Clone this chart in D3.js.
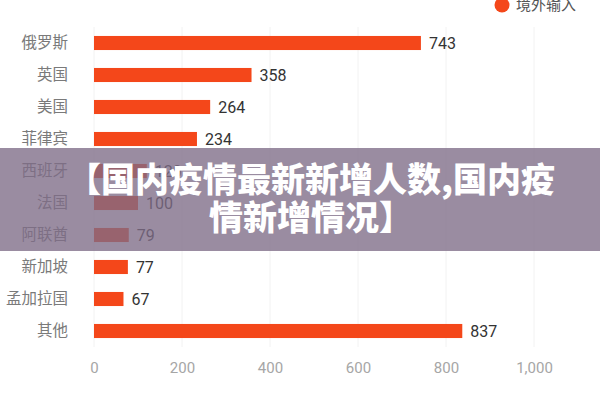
<!DOCTYPE html>
<html>
<head>
<meta charset="utf-8">
<script src="https://cdn.jsdelivr.net/npm/d3@7"></script>
<style>
  body { margin: 0; background: #fff; }
  svg { display: block; font-family: "Noto Sans CJK SC", "Noto Sans", sans-serif; }
</style>
</head>
<body>
<div id="chart-area"></div>
<script>
// data
var countries = ["俄罗斯", "英国", "美国", "菲律宾", "西班牙", "法国", "阿联酋", "新加坡", "孟加拉国", "其他"];
var cases = [743, 358, 264, 234, 120, 100, 79, 77, 67, 837];
var xTicks = [0, 200, 400, 600, 800, 1000];
var legendLabel = "境外输入";
var titleLines = ["【国内疫情最新新增人数,国内疫", "情新增情况】"];

var width = 600, height = 400;
var margin = {left: 94, right: 66, top: 27, bottom: 53};

var svg = d3.select("#chart-area")
    .append("svg")
        .attr("width", width)
        .attr("height", height);

var x = d3.scaleLinear()
    .domain([0, 1000])
    .range([margin.left, width - margin.right]);

var y = d3.scaleBand()
    .domain(countries)
    .range([margin.top, height - margin.bottom])
    .paddingInner(0.56)
    .paddingOuter(0.28);

// faint vertical grid
svg.append("g")
    .selectAll("line")
    .data(xTicks)
    .enter().append("line")
        .attr("x1", function(d) { return x(d); })
        .attr("x2", function(d) { return x(d); })
        .attr("y1", margin.top)
        .attr("y2", height - margin.bottom)
        .attr("stroke", "#f2f2f2")
        .attr("stroke-width", 1);

// x axis, labels only
var xAxis = d3.axisBottom(x)
    .tickValues(xTicks)
    .tickSize(0)
    .tickPadding(0)
    .tickFormat(d3.format(","));
var gx = svg.append("g")
    .attr("transform", "translate(0," + 362 + ")")
    .call(xAxis);
gx.select(".domain").remove();
gx.selectAll("text")
    .attr("font-family", "Roboto, 'Noto Sans', sans-serif")
    .attr("font-size", "15px")
    .attr("fill", "#a6a6a6");

// y axis, labels only
var yAxis = d3.axisLeft(y)
    .tickSize(0)
    .tickPadding(26);
var gy = svg.append("g")
    .attr("transform", "translate(" + margin.left + ",0)")
    .call(yAxis);
gy.select(".domain").remove();
gy.selectAll("text")
    .attr("font-family", "'Noto Sans CJK SC', sans-serif")
    .attr("font-size", "15.5px")
    .attr("fill", "#7a7a7a");

// bars
svg.append("g")
    .selectAll("rect")
    .data(countries)
    .enter().append("rect")
        .attr("x", x(0))
        .attr("y", function(d) { return y(d); })
        .attr("width", function(d, i) { return x(cases[i]) - x(0); })
        .attr("height", y.bandwidth())
        .attr("fill", "#f4471a");

// value labels
svg.append("g")
    .selectAll("text")
    .data(countries)
    .enter().append("text")
        .attr("x", function(d, i) { return x(cases[i]) + 8; })
        .attr("y", function(d) { return y(d) + y.bandwidth() / 2; })
        .attr("dy", "0.36em")
        .attr("font-family", "Roboto, 'Noto Sans', sans-serif")
        .attr("font-size", "16px")
        .attr("fill", "#333")
        .text(function(d, i) { return cases[i]; });

// legend (cut off by top edge)
svg.append("circle")
    .attr("cx", 502)
    .attr("cy", 5)
    .attr("r", 7.5)
    .attr("fill", "#f4471a");
svg.append("text")
    .attr("x", 516)
    .attr("y", 10)
    .attr("font-size", "15px")
    .attr("fill", "#555")
    .text(legendLabel);

// title overlay band
svg.append("rect")
    .attr("x", 0)
    .attr("y", 148)
    .attr("width", width)
    .attr("height", 103)
    .attr("fill", "rgb(125,108,135)")
    .attr("fill-opacity", 0.78);

svg.append("g")
    .selectAll("text")
    .data(titleLines)
    .enter().append("text")
        .attr("x", 311)
        .attr("y", function(d, i) { return 192 + i * 38; })
        .attr("text-anchor", "middle")
        .attr("font-family", "'Noto Sans CJK SC', sans-serif")
        .attr("font-weight", 900)
        .attr("font-size", "34px")
        .attr("fill", "#fff")
        .text(function(d) { return d; });
</script>
</body>
</html>
